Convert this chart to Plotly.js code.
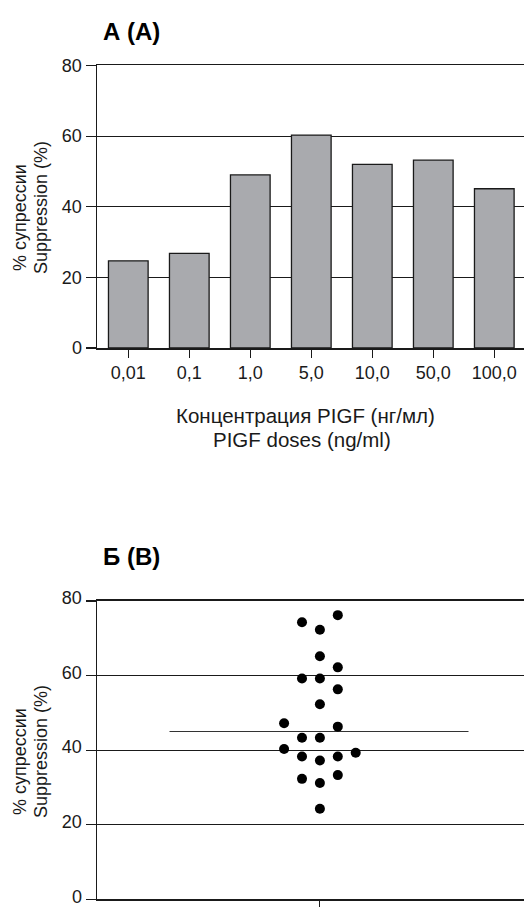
<!DOCTYPE html>
<html>
<head>
<meta charset="utf-8">
<script src="https://cdn.plot.ly/plotly-3.0.1.min.js"></script>
<style>html,body{margin:0;padding:0;background:#fff;}#chart{width:524px;height:907px;}</style>
</head>
<body>
<div id="chart"></div>
<script>
// Panel A: bar chart
const doseLabels = ["0,01", "0,1", "1,0", "5,0", "10,0", "50,0", "100,0"];
const suppressionA = [24.7, 26.8, 49.0, 60.3, 52.0, 53.2, 45.1];

// Panel B: individual points (column offset within the strip, value)
const pointColumn = [-1, 0, 1, 0, 1, -1, 0, 1, 0, -2, 1, -1, 0, -2, -1, 0, 1, 2, -1, 0, 1, 0];
const suppressionB = [74.3, 72.3, 76.2, 65.2, 62.2, 59.2, 59.2, 56.3, 52.3, 47.2, 46.3, 43.3, 43.3, 40.3, 38.3, 37.2, 38.3, 39.3, 32.3, 31.2, 33.3, 24.3];
const meanLineX = [-8.4, 8.3];
const meanValue = [45, 45];

// Texts
const panelTitles = ["А (А)", "Б (В)"];
const xTitleLines = ["Концентрация PIGF (нг/мл)", "PIGF doses (ng/ml)"];
const yTitleLines = ["% супрессии", "Suppression (%)"];

const FONT = '"Liberation Sans", Arial, sans-serif';
const INK = '#1a1a1a';

const traces = [
  {
    type: 'bar', x: doseLabels, y: suppressionA, xaxis: 'x', yaxis: 'y',
    width: 0.65,
    marker: {color: '#a9aaae', line: {color: INK, width: 1.3}},
    hoverinfo: 'skip'
  },
  {
    type: 'scatter', mode: 'lines', x: meanLineX, y: meanValue, xaxis: 'x2', yaxis: 'y2',
    line: {color: '#333', width: 1.2}, hoverinfo: 'skip'
  },
  {
    type: 'scatter', mode: 'markers', x: pointColumn, y: suppressionB, xaxis: 'x2', yaxis: 'y2',
    marker: {color: '#000', size: 10}, hoverinfo: 'skip'
  }
];

const yCommon = {
  range: [0, 80], tickvals: [0, 20, 40, 60, 80], ticks: 'outside', ticklen: 10, tickwidth: 1.2,
  tickcolor: INK, showline: true, linecolor: INK, linewidth: 1.5,
  showgrid: true, gridcolor: INK, gridwidth: 1.2, zeroline: false,
  ticklabeloverflow: 'allow',
  tickfont: {family: FONT, size: 18, color: INK}
};

// helpers converting page pixels to paper fractions for text placement
const W = 524, H = 907, L = 97, PW = W - L;
const px = v => (v - L) / PW;
const py = v => (H - v) / H;

function yTitle(lineIdx, cx, cy) {
  return {text: yTitleLines[lineIdx], xref: 'paper', yref: 'paper', x: px(cx), y: py(cy),
    xanchor: 'center', yanchor: 'middle', textangle: -90, showarrow: false,
    font: {family: FONT, size: 18, color: INK}};
}

const layout = {
  width: W, height: H,
  margin: {l: L, r: 0, t: 0, b: 0},
  paper_bgcolor: '#fff', plot_bgcolor: '#fff',
  showlegend: false,
  font: {family: FONT, color: INK},
  xaxis: {
    domain: [0, 1], anchor: 'y', range: [-0.513, 6.487], type: 'category',
    ticks: 'outside', ticklen: 8, tickwidth: 1.2, tickcolor: INK,
    showline: true, mirror: true, linecolor: INK, linewidth: 1.5, showgrid: false, zeroline: false,
    tickfont: {family: FONT, size: 18, color: INK}
  },
  yaxis: Object.assign({}, yCommon, {domain: [0.6163, 0.9278], anchor: 'x'}),
  xaxis2: {
    domain: [0, 1], anchor: 'y2', range: [-12.45, 11.4],
    tickvals: [0], ticktext: [''], ticks: 'outside', ticklen: 7, tickwidth: 1.2, tickcolor: INK,
    showline: true, mirror: true, linecolor: INK, linewidth: 1.5, showgrid: false, zeroline: false
  },
  yaxis2: Object.assign({}, yCommon, {domain: [0.0085, 0.3374], anchor: 'x2', ticklabelshift: -3}),
  annotations: [
    {text: '<b>' + panelTitles[0] + '</b>', xref: 'paper', yref: 'paper', x: px(101), y: py(32), xanchor: 'left', yanchor: 'middle',
     showarrow: false, font: {family: FONT, size: 24, color: '#000'}},
    {text: '<b>' + panelTitles[1] + '</b>', xref: 'paper', yref: 'paper', x: px(101), y: py(556), xanchor: 'left', yanchor: 'middle',
     showarrow: false, font: {family: FONT, size: 24, color: '#000'}},
    {text: xTitleLines[0], xref: 'paper', yref: 'paper', x: px(305), y: py(415), xanchor: 'center', yanchor: 'middle',
     showarrow: false, font: {family: FONT, size: 20.5, color: INK}},
    {text: xTitleLines[1], xref: 'paper', yref: 'paper', x: px(302), y: py(440), xanchor: 'center', yanchor: 'middle',
     showarrow: false, font: {family: FONT, size: 20.5, color: INK}},
    yTitle(0, 20, 218), yTitle(1, 41, 208),
    yTitle(0, 20, 762), yTitle(1, 41, 752)
  ]
};

Plotly.newPlot('chart', traces, layout, {displayModeBar: false, staticPlot: true});
</script>
</body>
</html>
